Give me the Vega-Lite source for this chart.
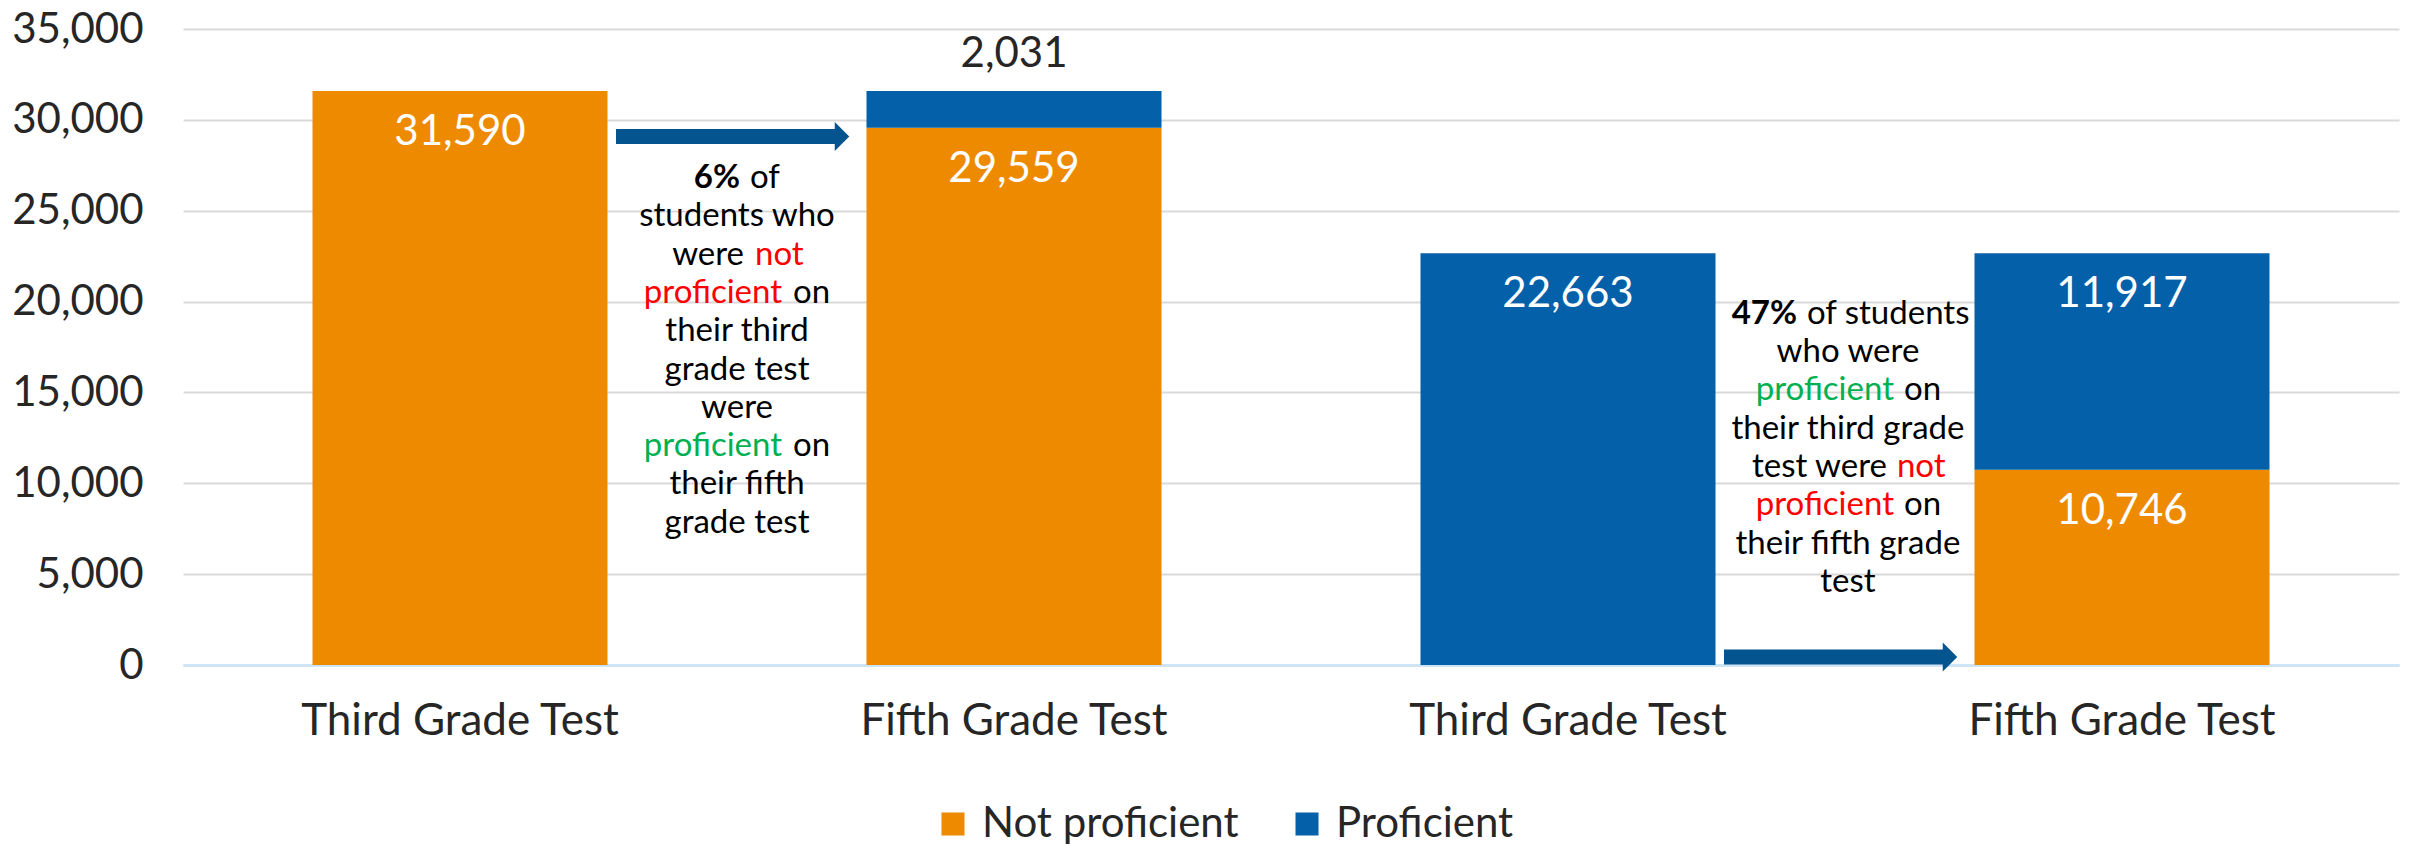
{
  "$schema": "https://vega.github.io/schema/vega-lite/v6.json",
  "width": 2216,
  "height": 636,
  "autosize": {"type": "none"},
  "padding": {"left": 183, "top": 29, "right": 10, "bottom": 180},
  "config": {
    "font": "Lato",
    "view": {"stroke": null},
    "axis": {"labelFont": "Lato"},
    "legend": {"labelFont": "Lato"},
    "text": {"fontSize": 33, "baseline": "middle", "color": "#000000"}
  },
  "layer": [
    {
      "data": {"values": [
        {"test": "A3", "status": "Not proficient", "count": 31590},
        {"test": "A5", "status": "Not proficient", "count": 29559},
        {"test": "A5", "status": "Proficient", "count": 2031},
        {"test": "B3", "status": "Proficient", "count": 22663},
        {"test": "B5", "status": "Not proficient", "count": 10746},
        {"test": "B5", "status": "Proficient", "count": 11917}
      ]},
      "transform": [{"stack": "count", "groupby": ["test"], "sort": [{"field": "status"}], "as": ["c0", "c1"]}],
      "mark": {"type": "bar"},
      "encoding": {
        "x": {
          "field": "test", "type": "nominal", "title": null,
          "scale": {"domain": ["A3", "A5", "B3", "B5"], "paddingInner": 0.4675, "paddingOuter": 0.23375},
          "axis": {
            "labelExpr": "indexof(datum.value, '3') >= 0 ? 'Third Grade Test' : 'Fifth Grade Test'",
            "labelFontSize": 44, "labelColor": "#262626", "labelPadding": 34, "labelAngle": 0,
            "labelLimit": 0, "labelOverlap": false,
            "ticks": false, "domain": true, "domainColor": "#C9E3F7", "domainWidth": 2.5, "grid": false
          }
        },
        "y": {
          "field": "c1", "type": "quantitative", "title": null,
          "scale": {"domain": [0, 35000]},
          "axis": {
            "values": [0, 5000, 10000, 15000, 20000, 25000, 30000, 35000],
            "format": ",d", "labelFontSize": 42, "labelColor": "#262626", "labelPadding": 40,
            "labelLimit": 0, "ticks": false, "domain": false,
            "grid": true, "gridColor": "#D9D9D9", "gridWidth": 2
          }
        },
        "y2": {"field": "c0"},
        "color": {
          "field": "status", "type": "nominal",
          "scale": {"domain": ["Not proficient", "Proficient"], "range": ["#EE8A00", "#0460A9"]},
          "legend": {
            "title": null, "orient": "none", "legendX": 749, "legendY": 774, "direction": "horizontal",
            "symbolType": "square", "symbolSize": 530, "symbolStrokeWidth": 0,
            "labelFontSize": 42, "labelColor": "#262626", "labelOffset": 8, "labelLimit": 0,
            "columnPadding": 47
          }
        }
      }
    },
    {
      "data": {"values": [
        {"test": "A3", "status": "Not proficient", "count": 31590},
        {"test": "A5", "status": "Not proficient", "count": 29559},
        {"test": "A5", "status": "Proficient", "count": 2031},
        {"test": "B3", "status": "Proficient", "count": 22663},
        {"test": "B5", "status": "Not proficient", "count": 10746},
        {"test": "B5", "status": "Proficient", "count": 11917}
      ]},
      "transform": [
        {"stack": "count", "groupby": ["test"], "sort": [{"field": "status"}], "as": ["c0", "c1"]},
        {"filter": "datum.count > 5000"}
      ],
      "mark": {"type": "text", "dy": 41, "fontSize": 42, "color": "#FFFFFF", "baseline": "middle"},
      "encoding": {
        "x": {"field": "test", "type": "nominal"},
        "y": {"field": "c1", "type": "quantitative"},
        "text": {"field": "count", "type": "quantitative", "format": ","}
      }
    },
    {
      "data": {"values": [
        {"test": "A3", "status": "Not proficient", "count": 31590},
        {"test": "A5", "status": "Not proficient", "count": 29559},
        {"test": "A5", "status": "Proficient", "count": 2031},
        {"test": "B3", "status": "Proficient", "count": 22663},
        {"test": "B5", "status": "Not proficient", "count": 10746},
        {"test": "B5", "status": "Proficient", "count": 11917}
      ]},
      "transform": [
        {"stack": "count", "groupby": ["test"], "sort": [{"field": "status"}], "as": ["c0", "c1"]},
        {"filter": "datum.count < 5000"}
      ],
      "mark": {"type": "text", "dy": -37, "fontSize": 42, "color": "#262626", "baseline": "middle"},
      "encoding": {
        "x": {"field": "test", "type": "nominal"},
        "y": {"field": "c1", "type": "quantitative"},
        "text": {"field": "count", "type": "quantitative", "format": ","}
      }
    },
    {
      "data": {"values": [
        {"from": "A3", "to": "A5", "v": 29084},
        {"from": "B3", "to": "B5", "v": 440}
      ]},
      "mark": {"type": "rule", "strokeWidth": 15, "color": "#04548F", "strokeCap": "butt", "xOffset": 156, "x2Offset": -179},
      "encoding": {
        "x": {"field": "from", "type": "nominal"},
        "x2": {"field": "to"},
        "y": {"field": "v", "type": "quantitative"}
      }
    },
    {
      "data": {"values": [
        {"from": "A3", "to": "A5", "v": 29084},
        {"from": "B3", "to": "B5", "v": 440}
      ]},
      "mark": {"type": "point", "shape": "M-0.5,-1L0.5,0L-0.5,1Z", "size": 841, "filled": true, "opacity": 1, "strokeWidth": 0, "color": "#04548F", "xOffset": -172},
      "encoding": {
        "x": {"field": "to", "type": "nominal"},
        "y": {"field": "v", "type": "quantitative"}
      }
    },
    {
      "data": {"values": [
        {"g": "A3", "v": 24690, "t": "students who"},
        {"g": "A3", "v": 18370, "t": "their third"},
        {"g": "A3", "v": 16260, "t": "grade test"},
        {"g": "A3", "v": 14155, "t": "were"},
        {"g": "A3", "v": 9940, "t": "their fifth"},
        {"g": "A3", "v": 7830, "t": "grade test"}
      ]},
      "mark": {"type": "text", "align": "center"},
      "encoding": {
        "x": {"field": "g", "type": "nominal", "bandPosition": 1.439},
        "y": {"field": "v", "type": "quantitative"},
        "text": {"field": "t"}
      }
    },
    {
      "data": {"values": [
        {"g": "B3", "v": 17225, "t": "who were"},
        {"g": "B3", "v": 13010, "t": "their third grade"},
        {"g": "B3", "v": 6685, "t": "their fifth grade"},
        {"g": "B3", "v": 4580, "t": "test"}
      ]},
      "mark": {"type": "text", "align": "center"},
      "encoding": {
        "x": {"field": "g", "type": "nominal", "bandPosition": 1.449},
        "y": {"field": "v", "type": "quantitative"},
        "text": {"field": "t"}
      }
    },
    {
      "data": {"values": [{"g": "A3", "v": 26800, "t": "6%"}]},
      "mark": {"type": "text", "fontWeight": "bold", "align": "right", "dx": 3},
      "encoding": {
        "x": {"field": "g", "type": "nominal", "bandPosition": 1.439},
        "y": {"field": "v", "type": "quantitative"},
        "text": {"field": "t"}
      }
    },
    {
      "data": {"values": [{"g": "A3", "v": 26800, "t": "of"}]},
      "mark": {"type": "text", "align": "left", "dx": 13},
      "encoding": {
        "x": {"field": "g", "type": "nominal", "bandPosition": 1.439},
        "y": {"field": "v", "type": "quantitative"},
        "text": {"field": "t"}
      }
    },
    {
      "data": {"values": [{"g": "A3", "v": 22585, "t": "were"}]},
      "mark": {"type": "text", "align": "right", "dx": 7},
      "encoding": {
        "x": {"field": "g", "type": "nominal", "bandPosition": 1.439},
        "y": {"field": "v", "type": "quantitative"},
        "text": {"field": "t"}
      }
    },
    {
      "data": {"values": [{"g": "A3", "v": 22585, "t": "not"}]},
      "mark": {"type": "text", "align": "left", "dx": 18, "color": "#FF0000"},
      "encoding": {
        "x": {"field": "g", "type": "nominal", "bandPosition": 1.439},
        "y": {"field": "v", "type": "quantitative"},
        "text": {"field": "t"}
      }
    },
    {
      "data": {"values": [{"g": "A3", "v": 20475, "t": "proficient"}]},
      "mark": {"type": "text", "align": "right", "dx": 45, "color": "#FF0000"},
      "encoding": {
        "x": {"field": "g", "type": "nominal", "bandPosition": 1.439},
        "y": {"field": "v", "type": "quantitative"},
        "text": {"field": "t"}
      }
    },
    {
      "data": {"values": [{"g": "A3", "v": 12045, "t": "proficient"}]},
      "mark": {"type": "text", "align": "right", "dx": 45, "color": "#00B050"},
      "encoding": {
        "x": {"field": "g", "type": "nominal", "bandPosition": 1.439},
        "y": {"field": "v", "type": "quantitative"},
        "text": {"field": "t"}
      }
    },
    {
      "data": {"values": [
        {"g": "A3", "v": 20475, "t": "on"},
        {"g": "A3", "v": 12045, "t": "on"}
      ]},
      "mark": {"type": "text", "align": "left", "dx": 56},
      "encoding": {
        "x": {"field": "g", "type": "nominal", "bandPosition": 1.439},
        "y": {"field": "v", "type": "quantitative"},
        "text": {"field": "t"}
      }
    },
    {
      "data": {"values": [{"g": "B3", "v": 19330, "t": "47%"}]},
      "mark": {"type": "text", "fontWeight": "bold", "align": "right", "dx": -51},
      "encoding": {
        "x": {"field": "g", "type": "nominal", "bandPosition": 1.449},
        "y": {"field": "v", "type": "quantitative"},
        "text": {"field": "t"}
      }
    },
    {
      "data": {"values": [{"g": "B3", "v": 19330, "t": "of students"}]},
      "mark": {"type": "text", "align": "left", "dx": -41},
      "encoding": {
        "x": {"field": "g", "type": "nominal", "bandPosition": 1.449},
        "y": {"field": "v", "type": "quantitative"},
        "text": {"field": "t"}
      }
    },
    {
      "data": {"values": [{"g": "B3", "v": 15115, "t": "proficient"}]},
      "mark": {"type": "text", "align": "right", "dx": 46, "color": "#00B050"},
      "encoding": {
        "x": {"field": "g", "type": "nominal", "bandPosition": 1.449},
        "y": {"field": "v", "type": "quantitative"},
        "text": {"field": "t"}
      }
    },
    {
      "data": {"values": [{"g": "B3", "v": 8795, "t": "proficient"}]},
      "mark": {"type": "text", "align": "right", "dx": 46, "color": "#FF0000"},
      "encoding": {
        "x": {"field": "g", "type": "nominal", "bandPosition": 1.449},
        "y": {"field": "v", "type": "quantitative"},
        "text": {"field": "t"}
      }
    },
    {
      "data": {"values": [
        {"g": "B3", "v": 15115, "t": "on"},
        {"g": "B3", "v": 8795, "t": "on"}
      ]},
      "mark": {"type": "text", "align": "left", "dx": 56},
      "encoding": {
        "x": {"field": "g", "type": "nominal", "bandPosition": 1.449},
        "y": {"field": "v", "type": "quantitative"},
        "text": {"field": "t"}
      }
    },
    {
      "data": {"values": [{"g": "B3", "v": 10900, "t": "test were"}]},
      "mark": {"type": "text", "align": "right", "dx": 39},
      "encoding": {
        "x": {"field": "g", "type": "nominal", "bandPosition": 1.449},
        "y": {"field": "v", "type": "quantitative"},
        "text": {"field": "t"}
      }
    },
    {
      "data": {"values": [{"g": "B3", "v": 10900, "t": "not"}]},
      "mark": {"type": "text", "align": "left", "dx": 49, "color": "#FF0000"},
      "encoding": {
        "x": {"field": "g", "type": "nominal", "bandPosition": 1.449},
        "y": {"field": "v", "type": "quantitative"},
        "text": {"field": "t"}
      }
    }
  ]
}
